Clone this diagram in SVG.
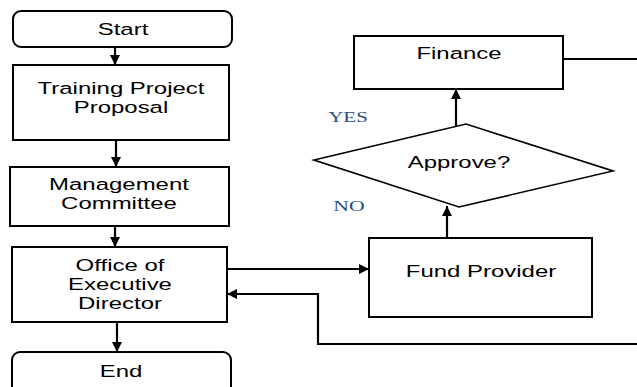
<svg xmlns="http://www.w3.org/2000/svg" width="637" height="387" viewBox="0 0 637 387">
  <defs>
    <marker id="arrow" viewBox="0 0 10 10" refX="10" refY="5" markerWidth="12" markerHeight="10" markerUnits="userSpaceOnUse" orient="auto">
      <path d="M0,0 L10,5 L0,10 z" fill="#000"/>
    </marker>
  </defs>
  <style>
    .box { fill: #fff; stroke: #000; stroke-width: 2; }
    .dia { fill: #fff; stroke: #000; stroke-width: 1.6; }
    .lbl { font-family: "Liberation Sans", Arial, sans-serif; font-size: 17px; fill: #000; text-anchor: middle; }
    .yn { font-family: "Liberation Serif", "Times New Roman", serif; font-size: 15px; fill: #2b4a7e; text-anchor: middle; }
    .edge { fill: none; stroke: #000; stroke-width: 2.2; }
    .arr { marker-end: url(#arrow); }
  </style>

  <!-- connectors -->
  <g id="connectors">
    <line class="edge arr" x1="115" y1="47" x2="115" y2="65"/>
    <line class="edge arr" x1="116" y1="140" x2="116" y2="167"/>
    <line class="edge arr" x1="115" y1="226" x2="115" y2="247"/>
    <line class="edge arr" x1="117" y1="322" x2="117" y2="352"/>
    <line class="edge arr" x1="227" y1="269" x2="369" y2="269"/>
    <line class="edge arr" x1="447" y1="238" x2="447" y2="206"/>
    <line class="edge arr" x1="456" y1="126" x2="456" y2="89"/>
    <line class="edge" x1="563" y1="59" x2="637" y2="59"/>
    <polyline class="edge arr" points="637,344 318,344 318,294 227,294"/>
  </g>

  <g id="start">
    <rect class="box" x="13" y="11" width="219" height="36" rx="8"/>
    <text class="lbl" transform="translate(123,35) scale(1.41,1)">Start</text>
  </g>

  <g id="proposal">
    <rect class="box" x="13" y="65" width="216" height="75"/>
    <text class="lbl" transform="translate(121,93.5) scale(1.41,1)">Training Project</text>
    <text class="lbl" transform="translate(121,112.5) scale(1.41,1)">Proposal</text>
  </g>

  <g id="committee">
    <rect class="box" x="10" y="167" width="219" height="59"/>
    <text class="lbl" transform="translate(119,189.5) scale(1.41,1)">Management</text>
    <text class="lbl" transform="translate(119,208.5) scale(1.41,1)">Committee</text>
  </g>

  <g id="office">
    <rect class="box" x="12" y="247" width="215" height="75"/>
    <text class="lbl" transform="translate(120,270.5) scale(1.41,1)">Office of</text>
    <text class="lbl" transform="translate(120,289.5) scale(1.41,1)">Executive</text>
    <text class="lbl" transform="translate(120,308.5) scale(1.41,1)">Director</text>
  </g>

  <g id="end">
    <rect class="box" x="12" y="352" width="219" height="45" rx="8"/>
    <text class="lbl" transform="translate(121,377) scale(1.41,1)">End</text>
  </g>

  <g id="finance">
    <rect class="box" x="354" y="36" width="209" height="53"/>
    <text class="lbl" transform="translate(459,59) scale(1.41,1)">Finance</text>
  </g>

  <g id="approve">
    <polygon class="dia" points="314,160 466,124 613,171 459,207"/>
    <text class="lbl" transform="translate(459,168) scale(1.41,1)">Approve?</text>
  </g>

  <g id="fund-provider">
    <rect class="box" x="369" y="238" width="223" height="79"/>
    <text class="lbl" transform="translate(481,276.5) scale(1.41,1)">Fund Provider</text>
  </g>

  <g id="branch-labels">
    <text class="yn" transform="translate(348,122) scale(1.4,1)">YES</text>
    <text class="yn" transform="translate(349,211) scale(1.45,1)">NO</text>
  </g>
</svg>
